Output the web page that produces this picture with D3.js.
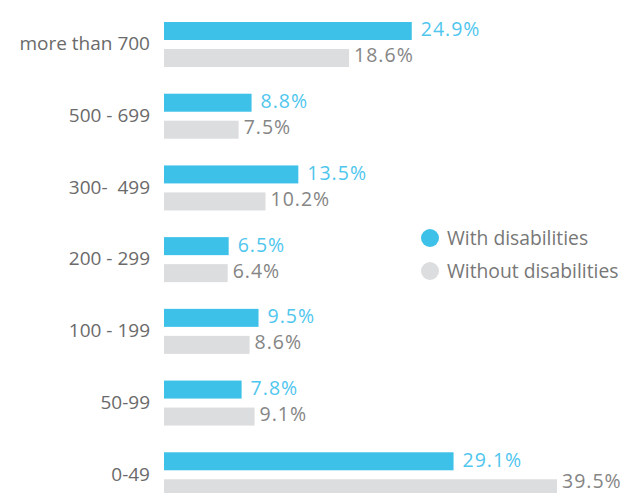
<!DOCTYPE html>
<html>
<head>
<meta charset="utf-8">
<script src="https://cdn.jsdelivr.net/npm/d3@7"></script>
<style>
  html, body { margin: 0; padding: 0; background: #fff; }
  svg { display: block; font-family: "Open Sans", Lato, sans-serif; }
  text { white-space: pre; }
</style>
</head>
<body>
<svg id="chart" width="625" height="493"></svg>
<script>
// Establishment size bands, top to bottom
const categories = ["more than 700", "500 - 699", "300-  499", "200 - 299", "100 - 199", "50-99", "0-49"];
const withDisabilities = [24.9, 8.8, 13.5, 6.5, 9.5, 7.8, 29.1];
const withoutDisabilities = [18.6, 7.5, 10.2, 6.4, 8.6, 9.1, 39.5];
const seriesNames = ["With disabilities", "Without disabilities"];
const seriesColors = ["#3ec1e8", "#dcdddf"];
const labelColors = ["#4fc6ee", "#858585"];

const width = 625, height = 493;
const svg = d3.select("#chart");

const x = d3.scaleLinear().domain([0, 40]).range([164, 562]);
const band = d3.scaleBand().domain(categories).range([22, 524]).paddingInner(0).paddingOuter(0);
const barH = 18, barGap = 9;

const groups = svg.selectAll("g.group")
  .data(categories.map((c, i) => ({ c, vals: [withDisabilities[i], withoutDisabilities[i]] })))
  .join("g")
  .attr("class", "group")
  .attr("transform", d => `translate(0,${band(d.c)})`);

groups.each(function(d) {
  const g = d3.select(this);
  const gy = band(d.c);
  d.vals.forEach((v, s) => {
    const y0 = s * (barH + barGap);
    g.append("rect")
      .attr("x", x(0))
      .attr("y", y0)
      .attr("width", x(v) - x(0))
      .attr("height", barH)
      .attr("fill", seriesColors[s]);
    // keep value labels inside the canvas
    const ly = Math.min(y0 + barH / 2 - (s === 0 ? 1.5 : 2.5), height - 12 - gy);
    g.append("text")
      .attr("x", x(v) + (s === 0 ? 9 : 5))
      .attr("y", ly)
      .attr("dy", "0.357em")
      .attr("font-size", 19.5)
      .attr("letter-spacing", 1)
      .attr("fill", labelColors[s])
      .text(v.toFixed(1) + "%");
  });
  g.append("text")
    .attr("x", 150)
    .attr("y", barH + barGap / 2 - 1)
    .attr("dy", "0.357em")
    .attr("text-anchor", "end")
    .attr("font-size", 19)
    .attr("fill", "#6a6a6a")
    .text(d.c);
});

// Legend
const legend = svg.append("g").attr("transform", "translate(430,238)");
seriesNames.forEach((name, i) => {
  const row = legend.append("g").attr("transform", `translate(0,${i * 33})`);
  row.append("circle").attr("r", 9).attr("fill", seriesColors[i]);
  row.append("text")
    .attr("x", 17)
    .attr("dy", "0.357em")
    .attr("font-size", 19.3)
    .attr("fill", "#777")
    .text(name);
});
</script>
</body>
</html>
